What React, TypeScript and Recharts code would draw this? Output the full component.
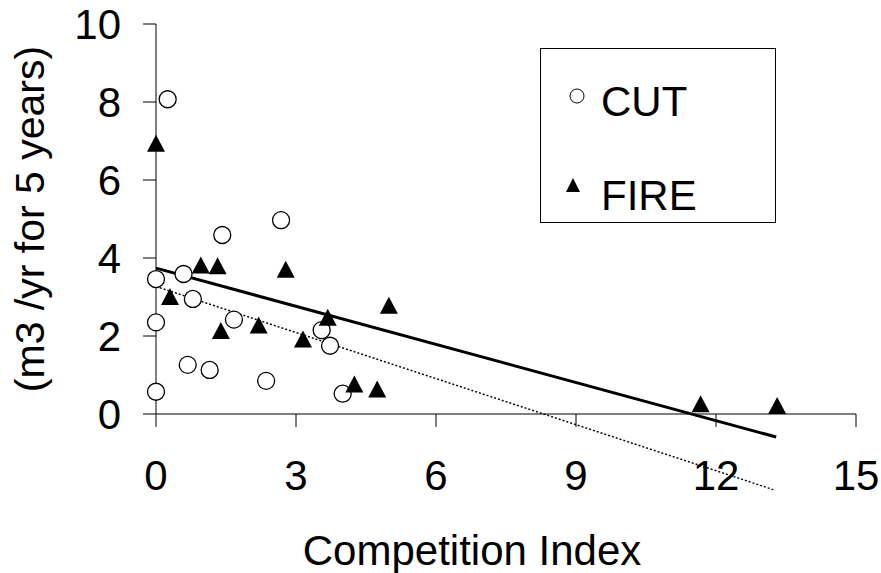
import {
  ScatterChart,
  Scatter,
  XAxis,
  YAxis,
  ReferenceLine,
  Legend,
  Label,
} from 'recharts';

interface Point {
  x: number;
  y: number;
}

const cutPoints: Point[] = [
  { x: 0, y: 3.46 },
  { x: 0.59, y: 3.59 },
  { x: 0.79, y: 2.95 },
  { x: 0, y: 2.35 },
  { x: 1.67, y: 2.42 },
  { x: 0.68, y: 1.26 },
  { x: 1.15, y: 1.13 },
  { x: 0, y: 0.57 },
  { x: 2.36, y: 0.85 },
  { x: 3.55, y: 2.15 },
  { x: 3.73, y: 1.75 },
  { x: 4.0, y: 0.52 },
  { x: 0.25, y: 8.07 },
  { x: 1.42, y: 4.59 },
  { x: 2.68, y: 4.97 },
];

const firePoints: Point[] = [
  { x: 0, y: 6.94 },
  { x: 0.96, y: 3.82 },
  { x: 1.32, y: 3.8 },
  { x: 2.78, y: 3.71 },
  { x: 0.3, y: 3.01 },
  { x: 1.39, y: 2.14 },
  { x: 2.2, y: 2.28 },
  { x: 3.15, y: 1.92 },
  { x: 3.68, y: 2.48 },
  { x: 4.99, y: 2.79 },
  { x: 4.25, y: 0.77 },
  { x: 4.74, y: 0.64 },
  { x: 11.67, y: 0.26 },
  { x: 13.31, y: 0.22 },
];

// trend lines, start and end points
const fireTrend: Point[] = [
  { x: 0, y: 3.74 },
  { x: 13.29, y: -0.59 },
];
const cutTrend: Point[] = [
  { x: 0, y: 3.27 },
  { x: 13.23, y: -1.94 },
];

const xTicks = [0, 3, 6, 9, 12, 15];
const yTicks = [0, 2, 4, 6, 8, 10];

const FONT = '"Liberation Sans", Arial, sans-serif';

const CircleMark = (props: any) => (
  <circle cx={props.cx} cy={props.cy} r={8.5} fill="#fff" stroke="#000" strokeWidth={1.3} />
);

const TriangleMark = (props: any) => {
  const { cx, cy } = props;
  return (
    <polygon
      points={`${cx},${cy - 8.5} ${cx - 9},${cy + 8.5} ${cx + 9},${cy + 8.5}`}
      fill="#000"
    />
  );
};

const LegendBox = () => (
  <div style={{ width: 236, height: 175, border: '1px solid #000', boxSizing: 'border-box', background: '#fff' }}>
    <svg width={234} height={173} style={{ display: 'block' }}>
      <circle cx={36} cy={47} r={7} fill="#fff" stroke="#000" strokeWidth={1} />
      <text x={60} y={67} fontSize={42} fontFamily={FONT} fill="#000">CUT</text>
      <polygon points="32,129 25,143 39,143" fill="#000" />
      <text x={60} y={161} fontSize={42} fontFamily={FONT} fill="#000">FIRE</text>
    </svg>
  </div>
);

export default function App() {
  return (
    <div style={{ position: 'absolute', left: 0, top: 0, background: '#fff' }}>
      <ScatterChart
        width={881}
        height={573}
        margin={{ top: 24, right: 25, left: 56, bottom: 59 }}
      >
        <XAxis
          type="number"
          dataKey="x"
          domain={[0, 15]}
          ticks={xTicks}
          height={100}
          stroke="#000"
          tickSize={13}
          tickMargin={33}
          tick={{ fill: '#000', fontSize: 42, fontFamily: FONT }}
        >
          <Label
            content={({ viewBox }: any) => (
              <text
                x={viewBox.x + viewBox.width / 2 - 34}
                y={565}
                textAnchor="middle"
                fontSize={42}
                fontFamily={FONT}
                fill="#000"
              >
                Competition Index
              </text>
            )}
          />
        </XAxis>
        <YAxis
          type="number"
          dataKey="y"
          domain={[0, 10]}
          ticks={yTicks}
          width={100}
          stroke="#000"
          tickSize={13}
          tickMargin={22}
          tick={{ fill: '#000', fontSize: 42, fontFamily: FONT }}
        >
          <Label
            content={({ viewBox }: any) => {
              const cy = viewBox.y + viewBox.height / 2;
              return (
                <text
                  x={44}
                  y={cy}
                  transform={`rotate(-90 44 ${cy})`}
                  textAnchor="middle"
                  fontSize={41}
                  fontFamily={FONT}
                  fill="#000"
                >
                  (m3 /yr for 5 years)
                </text>
              );
            }}
          />
        </YAxis>
        <Legend
          layout="vertical"
          align="center"
          verticalAlign="middle"
          content={() => <LegendBox />}
          wrapperStyle={{ position: 'absolute', left: 540, top: 48, width: 'auto', bottom: 'auto' }}
        />
        <Scatter name="CUT" data={cutPoints} shape={CircleMark} isAnimationActive={false} />
        <Scatter name="FIRE" data={firePoints} shape={TriangleMark} isAnimationActive={false} />
        <ReferenceLine
          segment={[fireTrend[0], fireTrend[1]]}
          stroke="#000"
          strokeWidth={3}
          ifOverflow="visible"
        />
        <ReferenceLine
          segment={[cutTrend[0], cutTrend[1]]}
          stroke="#000"
          strokeWidth={1.4}
          strokeDasharray="2 2"
          ifOverflow="visible"
        />
      </ScatterChart>
    </div>
  );
}
